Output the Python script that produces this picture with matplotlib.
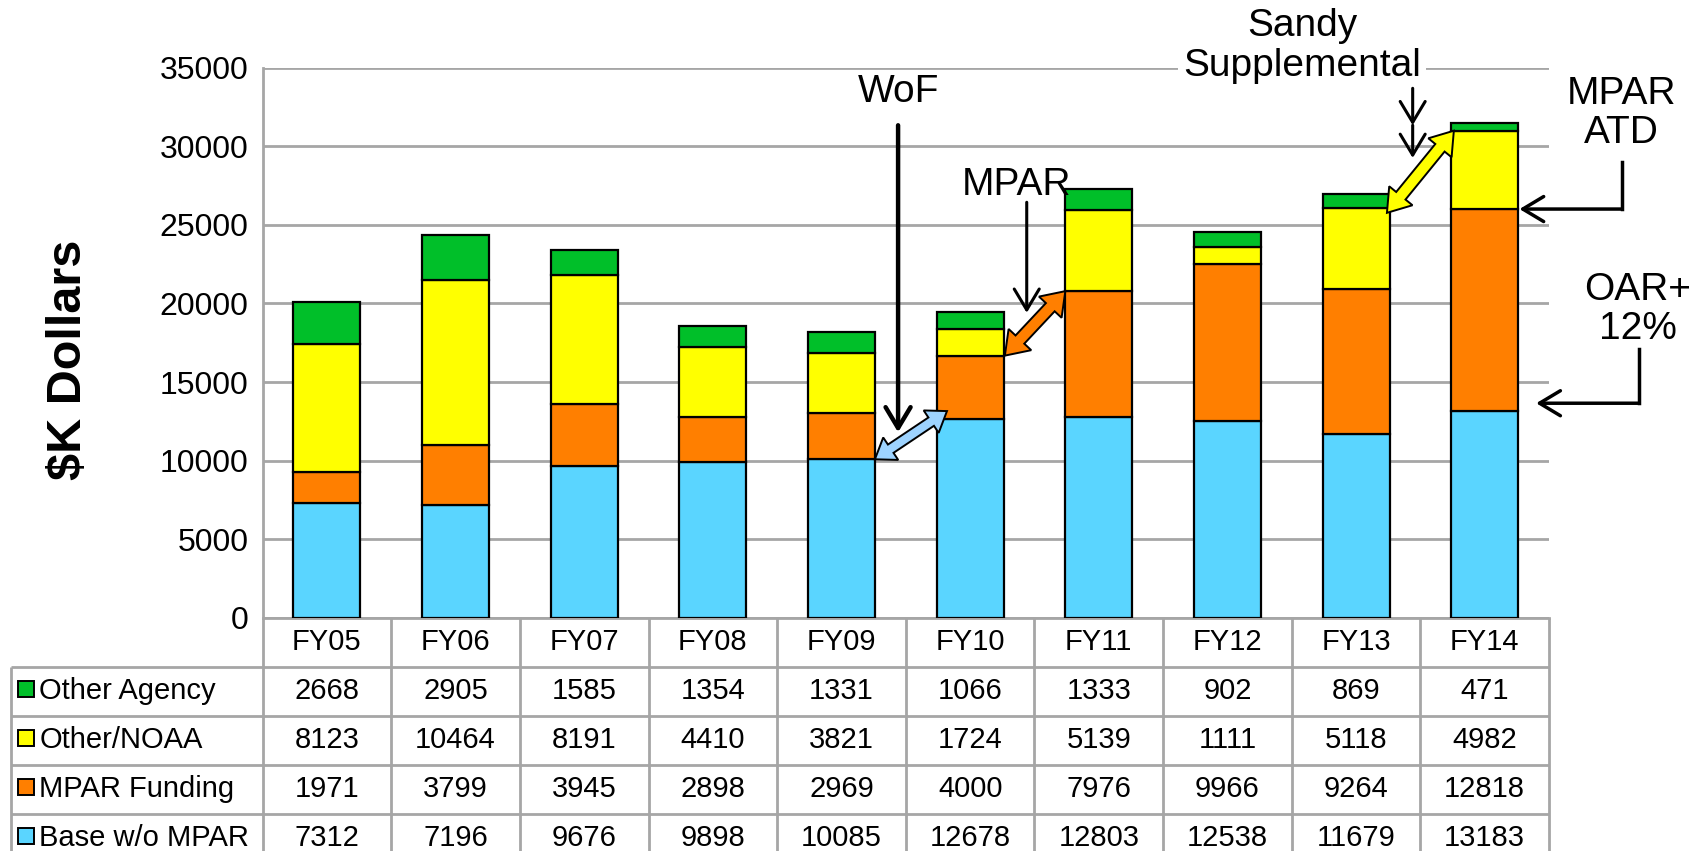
import numpy as np
import matplotlib.pyplot as plt
import matplotlib.patches as mpatches
import matplotlib.transforms as mtransforms

plt.rcParams['font.family'] = ['Liberation Sans', 'DejaVu Sans']

years = ['FY05', 'FY06', 'FY07', 'FY08', 'FY09', 'FY10', 'FY11', 'FY12', 'FY13', 'FY14']
base = [7312, 7196, 9676, 9898, 10085, 12678, 12803, 12538, 11679, 13183]
mpar = [1971, 3799, 3945, 2898, 2969, 4000, 7976, 9966, 9264, 12818]
other_noaa = [8123, 10464, 8191, 4410, 3821, 1724, 5139, 1111, 5118, 4982]
other_agency = [2668, 2905, 1585, 1354, 1331, 1066, 1333, 902, 869, 471]

series_names = ['Base w/o MPAR', 'MPAR Funding', 'Other/NOAA', 'Other Agency']
series_vals = [base, mpar, other_noaa, other_agency]
colors = ['#5AD5FF', '#FF7F00', '#FFFF00', '#00BF29']
grid_col = '#A6A6A6'

W, H = 1706, 851
fig = plt.figure(figsize=(W / 100, H / 100), dpi=100)

# main plot area (fractions of the figure)
ax_l, ax_r, ax_b, ax_t = 0.1539, 0.908, 0.274, 0.9206
ax = fig.add_axes([ax_l, ax_b, ax_r - ax_l, ax_t - ax_b])

x = np.arange(len(years))
bottom = np.zeros(len(years))
for vals, c in zip(series_vals, colors):
    ax.bar(x, vals, 0.52, bottom=bottom, color=c, edgecolor='black', linewidth=1.6, zorder=3)
    bottom += np.array(vals)

ax.set_xlim(-0.5, 9.5)
ax.set_ylim(0, 35000)
ax.set_yticks(range(0, 35001, 5000))
ax.set_xticks([])
ax.yaxis.grid(True, color=grid_col, lw=2)
ax.set_axisbelow(True)
for s in ['top', 'right']:
    ax.spines[s].set_visible(False)
for s in ['left', 'bottom']:
    ax.spines[s].set_color(grid_col)
    ax.spines[s].set_linewidth(2)
ax.tick_params(axis='y', length=0, pad=10, labelsize=23)

fig.text(63 / 1566, 1 - 330 / 781, r'\$K Dollars', rotation=90, fontsize=35,
         fontweight='bold', ha='center', va='center')

# data table under the bars
tb_l = 10 / 1566
tb_h = 225 / 781
tax = fig.add_axes([tb_l, ax_b - tb_h, ax_r - tb_l, tb_h])
x_left = 9.5 - 10 * (ax_r - tb_l) / (ax_r - ax_l)
tax.set_xlim(x_left, 9.5)
tax.set_ylim(5, 0)
tax.axis('off')

lkw = dict(color=grid_col, lw=2, clip_on=False, solid_capstyle='butt')
for k in range(11):
    tax.plot([k - 0.5, k - 0.5], [0, 5], **lkw)
tax.plot([x_left, x_left], [1, 5], **lkw)
for r in range(1, 5):
    tax.plot([x_left, 9.5], [r, r], **lkw)

for i, yr in enumerate(years):
    tax.text(i, 0.5, yr, ha='center', va='center', fontsize=21)

rows = list(zip(series_names, series_vals, colors))[::-1]
for r, (name, vals, c) in enumerate(rows):
    yc = r + 1.5
    tax.plot(x_left + 0.12, yc - 0.05, marker='s', ms=11, mfc=c, mec='black',
             mew=1.4, clip_on=False)
    tax.text(x_left + 0.22, yc, name, ha='left', va='center', fontsize=21)
    for i, v in enumerate(vals):
        tax.text(i, yc, str(v), ha='center', va='center', fontsize=21)


def fat_double_arrow(p0, p1, color, sw, hw, hl):
    P0 = ax.transData.transform(p0)
    P1 = ax.transData.transform(p1)
    d = P1 - P0
    u = d / np.hypot(*d)
    n = np.array([-u[1], u[0]])
    pts = [P0,
           P0 + u * hl + n * hw / 2, P0 + u * hl + n * sw / 2,
           P1 - u * hl + n * sw / 2, P1 - u * hl + n * hw / 2,
           P1,
           P1 - u * hl - n * hw / 2, P1 - u * hl - n * sw / 2,
           P0 + u * hl - n * sw / 2, P0 + u * hl - n * hw / 2]
    poly = mpatches.Polygon(pts, closed=True, facecolor=color, edgecolor='black',
                            lw=1.4, transform=mtransforms.IdentityTransform(), zorder=5)
    ax.add_patch(poly)


def black_arrow(p0, p1, lw):
    ax.annotate('', xy=p1, xytext=p0, annotation_clip=False,
                arrowprops=dict(arrowstyle='->,head_length=0.75,head_width=0.45',
                                lw=lw, color='black', mutation_scale=20,
                                shrinkA=0, shrinkB=0))


tops_base = np.array(base)
tops_mpar = tops_base + np.array(mpar)
tops_noaa = tops_mpar + np.array(other_noaa)

# WoF
ax.text(4.44, 33470, 'WoF', ha='center', va='center', fontsize=28)
black_arrow((4.44, 31330), (4.44, 11800), 3.2)
fat_double_arrow((4.26, tops_base[4]), (4.82, 13150), '#9DD3FF', 10, 27, 19)

# MPAR
ax.text(5.36, 27500, 'MPAR', ha='center', va='center', fontsize=28)
black_arrow((5.44, 26430), (5.44, 19400), 2.2)
fat_double_arrow((5.27, tops_mpar[5]), (5.74, tops_mpar[6]), '#FF7F00', 12, 31, 22)

# Sandy Supplemental
ax.text(7.58, 36390, 'Sandy\nSupplemental', ha='center', va='center', fontsize=28,
        linespacing=1.15, bbox=dict(fc='white', ec='none', pad=4))
black_arrow((8.44, 33680), (8.44, 31330), 2.2)
black_arrow((8.44, 31330), (8.44, 29250), 2.2)
fat_double_arrow((8.24, tops_noaa[8] - 300), (8.76, tops_noaa[9]), '#FFFF00', 12, 30, 22)

# MPAR ATD
ax.text(10.06, 32090, 'MPAR\nATD', ha='center', va='center', fontsize=28, linespacing=1.1)
ax.plot([10.067, 10.067], [29000, tops_mpar[9]], color='black', lw=2.5, clip_on=False)
black_arrow((10.067, tops_mpar[9]), (9.27, tops_mpar[9]), 2.5)

# OAR+ 12%
ax.text(10.19, 19610, 'OAR+\n12%', ha='center', va='center', fontsize=28, linespacing=1.1)
ax.plot([10.20, 10.20], [17120, 13650], color='black', lw=2.5, clip_on=False)
black_arrow((10.20, 13650), (9.40, 13650), 2.5)

fig.savefig('out.png', dpi=100)
